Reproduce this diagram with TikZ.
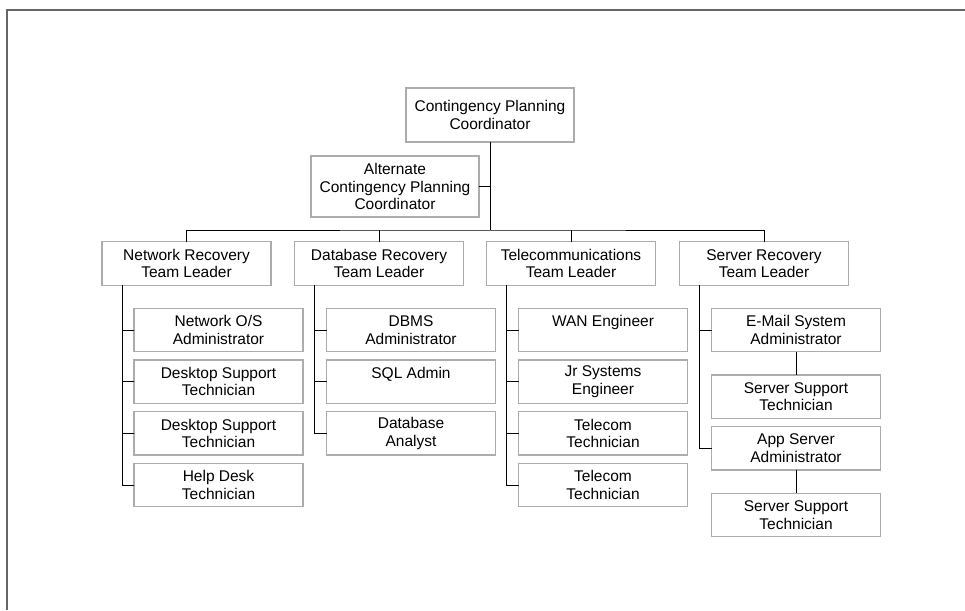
\documentclass[tikz,border=0pt]{standalone}
\usepackage{fontspec}
\setmainfont{Liberation Sans}
\begin{document}
\begin{tikzpicture}[x=1pt,y=-1pt,inner sep=0pt,outer sep=0pt,line width=1pt,
orgbox/.style={draw=gray!65,line width=1.2pt,rectangle,align=center,minimum width=169pt,minimum height=43.5pt,font=\fontsize{15.5}{17.5}\selectfont}]
\useasboundingbox (0,0) rectangle (965,610);
\draw[line width=2pt,gray!80!black] (7,610) -- (7,10) -- (965,10);
% top of the chart
\draw (490,115) node[orgbox,minimum width=168pt,minimum height=54pt] (cpc) {Contingency Planning\\Coordinator};
\draw (395,186.5) node[orgbox,minimum width=168pt,minimum height=61pt] (alt) {Alternate\\Contingency Planning\\Coordinator};
\coordinate (bus) at (490,230);
% team leaders
\draw (186.5,263.5) node[orgbox] (netlead) {Network Recovery\\Team Leader};
\draw (379,263.5) node[orgbox] (dblead) {Database Recovery\\Team Leader};
\draw (571,263.5) node[orgbox] (tellead) {Telecommunications\\Team Leader};
\draw (764,263.5) node[orgbox] (srvlead) {Server Recovery\\Team Leader};
% team members
\draw (218.5,330) node[orgbox] (net1) {Network O/S\\Administrator};
\draw (218.5,381.7) node[orgbox] (net2) {Desktop Support\\Technician};
\draw (218.5,433.3) node[orgbox] (net3) {Desktop Support\\Technician};
\draw (218.5,485) node[orgbox] (net4) {Help Desk\\Technician};
\draw (411,330) node[orgbox] (db1) {DBMS\\Administrator};
\draw (411,381.7) node[orgbox] (db2) {SQL Admin\\~};
\draw (411,433.3) node[orgbox] (db3) {Database\\Analyst};
\draw (603,330) node[orgbox] (tel1) {WAN Engineer\\~};
\draw (603,381.7) node[orgbox] (tel2) {Jr Systems\\Engineer};
\draw (603,433.3) node[orgbox] (tel3) {Telecom\\Technician};
\draw (603,485) node[orgbox] (tel4) {Telecom\\Technician};
\draw (796,330) node[orgbox] (srv1) {E-Mail System\\Administrator};
\draw (796,396.7) node[orgbox] (srv2) {Server Support\\Technician};
\draw (796,448.3) node[orgbox] (srv3) {App Server\\Administrator};
\draw (796,515) node[orgbox] (srv4) {Server Support\\Technician};
% connectors
\draw (cpc) -- (bus);
\draw (alt.east) -- (alt.east -| bus);
\draw (netlead.north) |- (bus) -| (srvlead.north);
\draw (dblead.north) -- (dblead.north |- bus);
\draw (tellead.north) -- (tellead.north |- bus);
\foreach \lead/\kid/\last in {netlead/net/4,dblead/db/3,tellead/tel/4} {
  \coordinate (\kid-bar) at ([xshift=20pt]\lead.south west);
  \draw (\kid-bar) |- (\kid\last.west);
  \foreach \i in {1,...,\last} \draw (\kid-bar |- \kid\i.west) -- (\kid\i.west);
}
\coordinate (srv-bar) at ([xshift=20pt]srvlead.south west);
\draw (srv-bar) |- (srv3.west);
\draw (srv-bar |- srv1.west) -- (srv1.west);
\draw (srv1) -- (srv2);
\draw (srv3) -- (srv4);
\end{tikzpicture}
\end{document}
